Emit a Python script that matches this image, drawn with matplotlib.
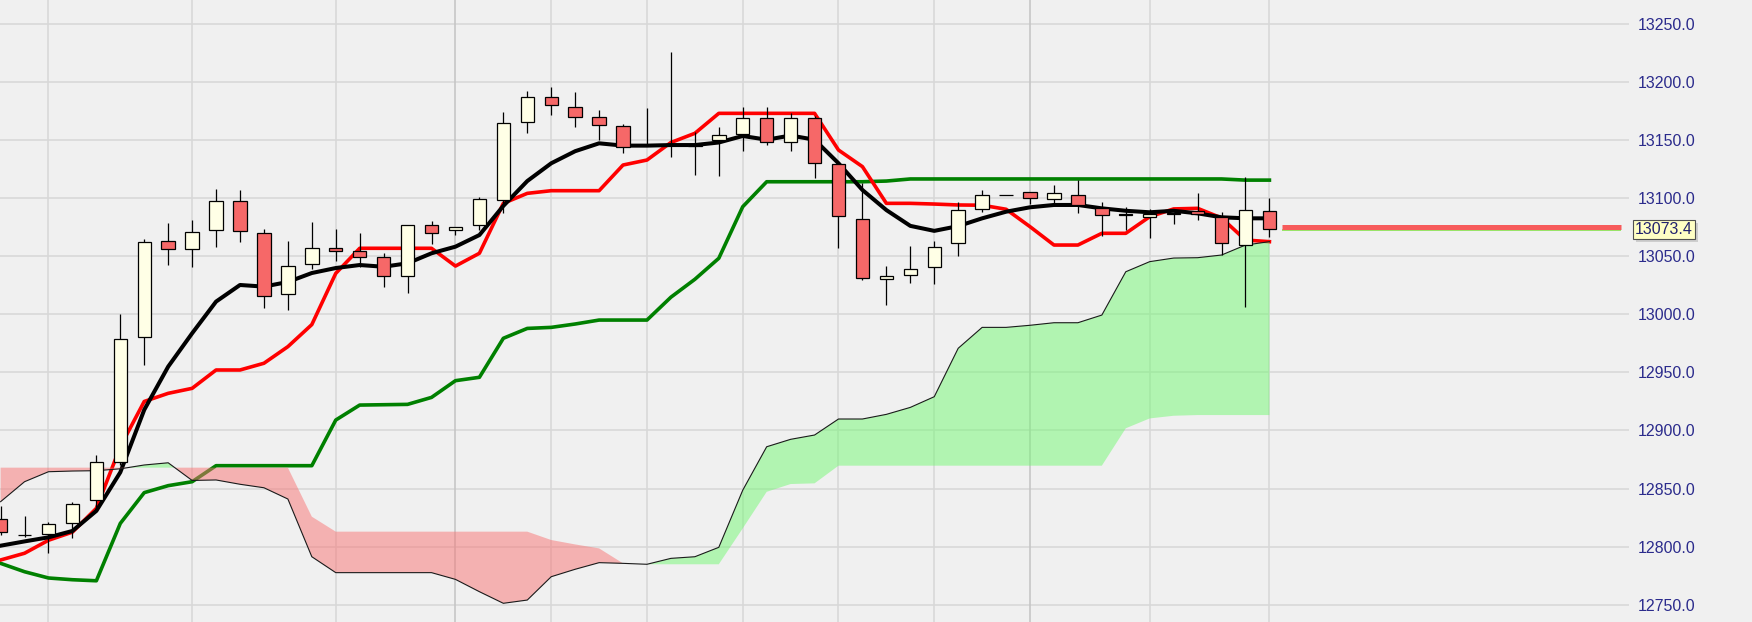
import numpy as np
import matplotlib
matplotlib.use("Agg")
import matplotlib.pyplot as plt
from matplotlib import transforms

# ---------------- data ----------------
opens = [12823.5, 12810.2, 12811.0, 12820.1, 12840.2, 12872.6, 12980.2, 13062.9, 13056.0, 13072.6,
         13097.6, 13070.3, 13017.3, 13043.1, 13057.4, 13054.8, 13049.4, 13032.8, 13076.7, 13072.6,
         13076.7, 13098.5, 13165.6, 13186.9, 13178.8, 13169.7, 13162.2, 13146.0, 13146.0, 13145.2,
         13149.9, 13155.3, 13168.8, 13148.0, 13168.8, 13129.5, 13082.1, 13030.2, 13033.9, 13040.5,
         13061.2, 13090.5, 13103.0, 13105.1, 13099.1, 13102.5, 13091.8, 13086.3, 13083.6, 13087.2,
         13089.2, 13083.8, 13059.7, 13088.7]
highs = [12834.6, 12826.4, 12821.5, 12838.2, 12878.9, 13000.0, 13065.1, 13078.4, 13081.2, 13108.2,
         13107.1, 13073.2, 13062.9, 13079.8, 13073.2, 13069.8, 13052.6, 13076.7, 13080.1, 13075.2,
         13100.8, 13174.0, 13192.6, 13196.0, 13191.1, 13175.6, 13163.6, 13177.5, 13225.6, 13156.7,
         13161.1, 13178.3, 13178.3, 13173.1, 13170.8, 13129.5, 13112.8, 13041.9, 13058.8, 13062.9,
         13096.5, 13107.1, 13103.0, 13105.1, 13111.1, 13115.7, 13096.7, 13092.7, 13090.4, 13088.4,
         13104.8, 13088.1, 13118.5, 13100.4]
lows = [12810.0, 12808.0, 12794.8, 12807.5, 12832.6, 12870.0, 12956.4, 13042.5, 13041.0, 13058.3,
        13062.0, 13005.2, 13003.7, 13038.8, 13046.2, 13041.0, 13023.3, 13018.1, 13060.6, 13068.3,
        13072.6, 13087.0, 13156.4, 13171.6, 13161.6, 13150.1, 13138.6, 13145.0, 13135.7, 13120.0,
        13119.1, 13140.9, 13145.8, 13140.9, 13117.7, 13056.9, 13029.6, 13008.1, 13026.7, 13025.9,
        13050.4, 13088.1, 13102.6, 13095.0, 13096.1, 13087.0, 13067.5, 13072.6, 13066.0, 13077.8,
        13081.2, 13051.1, 13006.6, 13066.3]
closes = [12812.3, 12809.6, 12819.6, 12836.5, 12872.6, 12978.5, 13062.6, 13056.0, 13070.6, 13097.6,
          13071.5, 13016.1, 13041.9, 13057.4, 13054.8, 13049.6, 13032.8, 13076.7, 13070.3, 13075.2,
          13099.1, 13164.5, 13186.9, 13180.0, 13169.7, 13163.0, 13144.4, 13145.6, 13145.6, 13145.8,
          13154.2, 13168.8, 13148.3, 13168.8, 13130.1, 13084.7, 13031.0, 13033.0, 13039.3, 13058.3,
          13089.8, 13102.8, 13102.6, 13099.9, 13104.2, 13093.9, 13085.8, 13085.9, 13086.1, 13086.8,
          13086.7, 13061.2, 13089.6, 13073.4]

tenkan = [12788.5, 12794.3, 12805.5, 12812.5, 12833.0, 12886.0, 12925.0, 12932.0, 12936.3, 12952.1,
          12952.1, 12957.9, 12972.2, 12991.2, 13035.3, 13056.9, 13056.9, 13056.9, 13056.9, 13041.6,
          13052.6, 13095.6, 13104.2, 13106.5, 13106.5, 13106.5, 13128.6, 13132.9, 13148.0, 13155.9,
          13173.1, 13173.1, 13173.1, 13173.1, 13173.1, 13141.5, 13127.2, 13095.6, 13095.6, 13095.0,
          13094.2, 13094.0, 13090.5, 13075.5, 13059.7, 13059.7, 13069.8, 13069.8, 13084.1, 13090.8,
          13091.3, 13083.0, 13064.0, 13062.6]
moving_avg = [12800.8, 12804.5, 12808.0, 12813.5, 12830.8, 12864.0, 12917.8, 12955.0, 12983.7, 13011.0,
              13025.3, 13023.9, 13027.9, 13035.6, 13039.9, 13042.5, 13041.0, 13044.0, 13052.6, 13058.3,
              13068.3, 13093.4, 13114.8, 13130.1, 13140.5, 13147.3, 13145.3, 13145.3, 13145.8, 13145.8,
              13148.0, 13153.6, 13150.4, 13154.0, 13150.4, 13130.1, 13107.1, 13089.8, 13076.2, 13071.9,
              13076.0, 13082.7, 13088.4, 13092.2, 13094.2, 13094.2, 13091.3, 13089.2, 13087.9, 13089.2,
              13087.0, 13083.6, 13082.7, 13082.7]
kijun = [12785.6, 12778.4, 12773.0, 12771.5, 12770.6, 12820.0, 12846.5, 12852.5, 12855.9, 12869.7,
         12869.7, 12869.7, 12869.7, 12869.7, 12909.0, 12921.9, 12922.2, 12922.5, 12928.5, 12942.9,
         12945.8, 12979.4, 12987.9, 12988.8, 12991.7, 12995.1, 12995.1, 12995.1, 13014.8, 13030.2,
         13048.3, 13092.7, 13114.2, 13114.2, 13114.2, 13114.2, 13114.2, 13114.8, 13116.6, 13116.6,
         13116.6, 13116.6, 13116.6, 13116.6, 13116.6, 13116.6, 13116.6, 13116.6, 13116.6, 13116.6,
         13116.6, 13116.6, 13115.6, 13115.6]
senkou_a = [12838.7, 12855.9, 12864.5, 12865.1, 12865.4, 12867.0, 12870.3, 12872.2, 12857.0, 12857.4,
            12853.7, 12850.7, 12841.0, 12791.3, 12777.6, 12777.6, 12777.6, 12777.6, 12777.6, 12771.8,
            12761.2, 12751.2, 12754.0, 12774.1, 12780.5, 12786.2, 12785.6, 12784.8, 12789.9, 12791.3,
            12799.4, 12848.6, 12886.0, 12892.4, 12896.1, 12909.9, 12909.9, 12913.9, 12919.9, 12929.1,
            12970.8, 12988.8, 12988.8, 12990.6, 12992.8, 12992.8, 12999.4, 13036.7, 13045.4, 13048.5,
            13048.8, 13051.1, 13059.7, 13062.6]
senkou_b = [12868.0, 12868.0, 12868.0, 12868.0, 12868.0, 12868.0, 12868.0, 12868.0, 12868.0, 12868.0,
            12868.0, 12868.0, 12868.0, 12825.8, 12812.9, 12812.9, 12812.9, 12812.9, 12812.9, 12812.9,
            12812.9, 12812.9, 12812.9, 12805.7, 12801.9, 12798.5, 12785.6, 12784.8, 12784.8, 12784.8,
            12784.8, 12815.7, 12847.2, 12853.9, 12854.5, 12869.7, 12869.7, 12869.7, 12869.7, 12869.7,
            12869.7, 12869.7, 12869.7, 12869.7, 12869.7, 12869.7, 12869.7, 12901.9, 12910.4, 12912.7,
            12913.3, 12913.3, 12913.3, 12913.3]

price_ticks = [12750, 12800, 12850, 12900, 12950, 13000, 13050, 13100, 13150, 13200, 13250]
grid_light_idx = [2, 8, 14, 23, 27, 31, 35, 39, 48, 53]
grid_dark_idx = [19, 43]
last_price = closes[-1]

# ---------------- figure ----------------
W, H = 1752, 622
fig = plt.figure(figsize=(W / 100, H / 100), dpi=100)
fig.patch.set_facecolor('#f0f0f0')
plot_w = 1629
ax = fig.add_axes([0, 0, plot_w / W, 1])
ax.set_facecolor('#f0f0f0')
for s in ax.spines.values():
    s.set_visible(False)

x = np.arange(len(closes))
o = np.array(opens); c = np.array(closes); h = np.array(highs); l = np.array(lows)

ax.set_xlim(-0.025, 68.02)
ax.set_ylim(12735.1, 13270.7)

# grid
for v in price_ticks:
    ax.axhline(v, color='#d8d8d8', lw=1.2, zorder=0.5)
for gi in grid_light_idx:
    ax.axvline(gi, color='#d8d8d8', lw=1.2, zorder=0.5)
for gi in grid_dark_idx:
    ax.axvline(gi, color='#c6c6c6', lw=1.2, zorder=0.5)

# lines
ax.plot(x, kijun, color='#008000', lw=2.6, zorder=2, solid_joinstyle='round')
ax.plot(x, tenkan, color='#ff0000', lw=2.6, zorder=2.1, solid_joinstyle='round')
ax.plot(x, moving_avg, color='#000000', lw=2.9, zorder=2.2, solid_joinstyle='round')

# cloud
sa = np.array(senkou_a); sb = np.array(senkou_b)
ax.fill_between(x, sa, sb, where=sa >= sb, interpolate=True, color='#74f874', alpha=0.5,
                lw=0, zorder=3)
ax.fill_between(x, sa, sb, where=sa <= sb, interpolate=True, color='#f87474', alpha=0.5,
                lw=0, zorder=3)
ax.plot(x, senkou_a, color='#1a1a1a', lw=0.8, zorder=3.5)

# candles
up = c >= o
ax.vlines(x, l, h, color='black', lw=0.9, zorder=4)
body_bottom = np.minimum(o, c)
body_h = np.abs(c - o)
ax.bar(x[up], body_h[up], bottom=body_bottom[up], width=0.56, color='#ffffe6',
       edgecolor='black', linewidth=0.9, zorder=5)
ax.bar(x[~up], body_h[~up], bottom=body_bottom[~up], width=0.56, color='#f66868',
       edgecolor='black', linewidth=0.9, zorder=5)

# last price line
x_end = ax.get_xlim()[1]
tr_red = transforms.offset_copy(ax.transData, fig=fig, x=0, y=2.3, units='dots')
tr_grn = transforms.offset_copy(ax.transData, fig=fig, x=0, y=-0.9, units='dots')
ax.plot([x[-1] + 0.53, x_end - 0.33], [last_price, last_price], color='#7fe040', lw=1.1,
        zorder=6, transform=tr_grn, solid_capstyle='butt')
ax.plot([x[-1] + 0.53, x_end - 0.33], [last_price, last_price], color='#f75b5b', lw=3.6,
        zorder=6.1, transform=tr_red, solid_capstyle='butt')

# y axis labels on right
ax.set_xticks([])
ax.yaxis.tick_right()
ax.set_yticks(price_ticks)
ax.set_yticklabels([f'{v:.1f}' for v in price_ticks])
ax.tick_params(axis='y', length=0, pad=6.1, labelsize=11.5, labelcolor='#2b2b8c')
for t in ax.get_yticklabels():
    t.set_fontfamily('Liberation Sans')

# price tag
blend = transforms.blended_transform_factory(ax.transAxes, ax.transData)
tag_x = 1635 / plot_w
shadow_tr = transforms.offset_copy(blend, fig=fig, x=3, y=-3, units='dots')
ax.text(tag_x, last_price, f'{last_price:.1f}', transform=shadow_tr, fontsize=11.5,
        family='Liberation Sans', color=(0, 0, 0, 0), va='center', ha='left', clip_on=False,
        bbox=dict(boxstyle='square,pad=0.12', fc='#b8b8b8', ec='none', alpha=0.6), zorder=7)
ax.text(tag_x, last_price, f'{last_price:.1f}', transform=blend, fontsize=11.5,
        family='Liberation Sans', color='#22226e', va='center', ha='left', clip_on=False,
        bbox=dict(boxstyle='square,pad=0.12', fc='#ffffc4', ec='#505050', lw=0.8), zorder=8)

fig.savefig('out.png', dpi=100, facecolor=fig.get_facecolor())
